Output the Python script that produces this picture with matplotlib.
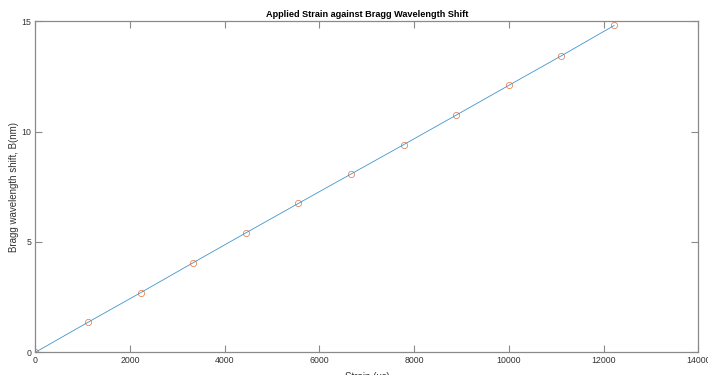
import matplotlib
matplotlib.use('Agg')
import matplotlib.pyplot as plt

# --- data ---
strain_ue = [0, 1111, 2222, 3333, 4444, 5556, 6667, 7778, 8889, 10000, 11111, 12222]
shift_nm = [0, 1.36, 2.70, 4.06, 5.41, 6.75, 8.08, 9.41, 10.75, 12.10, 13.44, 14.81]

x_ticks = [0, 2000, 4000, 6000, 8000, 10000, 12000, 14000]
y_ticks = [0, 5, 10, 15]

plt.rcParams['font.family'] = ['Liberation Sans', 'DejaVu Sans']

fig = plt.figure(figsize=(7.08, 3.75), dpi=100)
ax = fig.add_axes([0.0499, 0.0605, 0.9364, 0.8827])

# fitted line + measured points (MATLAB default colours)
ax.plot(strain_ue, shift_nm, color='#0072BD', linewidth=0.6, alpha=0.75)
ax.plot(strain_ue, shift_nm, linestyle='', marker='o', markersize=4.5,
        markerfacecolor='none', markeredgecolor='#D95319', markeredgewidth=0.55, alpha=0.75)

ax.set_xlim(0, 14000)
ax.set_ylim(0, 15)
ax.set_xticks(x_ticks)
ax.set_yticks(y_ticks)

axis_gray = '#8a8a8a'
for s in ax.spines.values():
    s.set_color(axis_gray)
    s.set_linewidth(0.9)
ax.tick_params(direction='in', length=5, width=0.8, color=axis_gray,
               labelsize=6.3, labelcolor='#333333', pad=3, top=True, right=True)

ax.set_title('Applied Strain against Bragg Wavelength Shift',
             fontsize=6.6, fontweight='bold', pad=3)
ax.set_xlabel('Strain (\u03bc\u03b5)', fontsize=7, color='#333333', labelpad=5)
ax.set_ylabel('Bragg wavelength shift, B(nm)', fontsize=7, color='#333333', labelpad=1.5)

fig.savefig('out.png', dpi=100)
